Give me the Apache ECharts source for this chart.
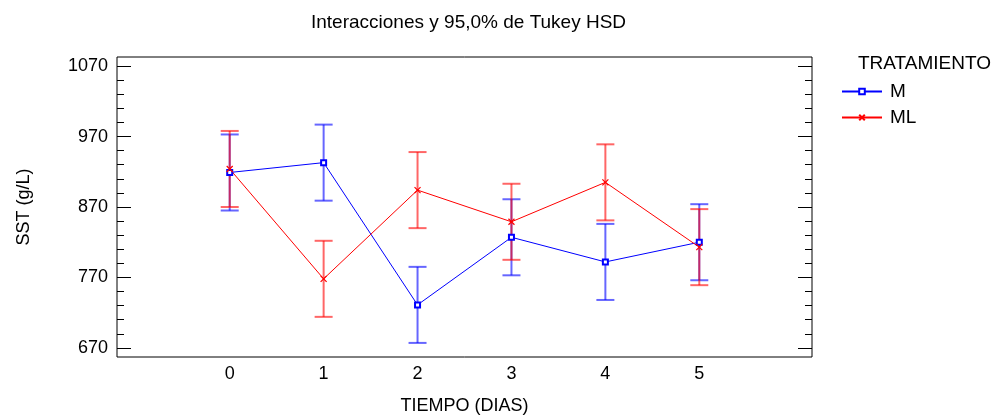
<!DOCTYPE html>
<html>
<head>
<meta charset="utf-8">
<script src="https://cdn.jsdelivr.net/npm/echarts@6/dist/echarts.min.js"></script>
<style>html,body{margin:0;padding:0;background:#fff}#c{width:1005px;height:416px}</style>
</head>
<body>
<div id="c"></div>
<script>
// ---- data ----
const days = [0, 1, 2, 3, 4, 5];
const seriesNames = ['M', 'ML'];
const meanM  = [919, 933, 731, 827, 792, 820];
const lowM   = [865, 879, 677, 773, 738, 766];
const highM  = [973, 987, 785, 881, 846, 874];
const meanML = [924, 768, 894, 849, 905, 813];
const lowML  = [870, 714, 840, 795, 851, 759];
const highML = [978, 822, 948, 903, 959, 867];
const yMajorTicks = [670, 770, 870, 970, 1070];
const yMinorTicks = [690, 710, 730, 750, 790, 810, 830, 850, 890, 910, 930, 950, 990, 1010, 1030, 1050];

const FONT = 'Liberation Sans';
const BLUE = '#0000ff', RED = '#ff0000';
const YMIN = 657, YMAX = 1083;

function pairs(xs, ys){ return xs.map((x, i) => [x, ys[i]]); }
function triples(xs, lo, hi){ return xs.map((x, i) => [x, lo[i], hi[i]]); }

function errRender(color){
  return function(params, api){
    const x = api.value(0), lo = api.value(1), hi = api.value(2);
    const a = api.coord([x, lo]), b = api.coord([x, hi]);
    const hw = 9;
    const st = {stroke: color, lineWidth: 2, opacity: 0.6};
    return {type: 'group', children: [
      {type: 'line', shape: {x1: a[0], y1: a[1], x2: b[0], y2: b[1]}, style: st},
      {type: 'line', shape: {x1: a[0]-hw, y1: a[1], x2: a[0]+hw, y2: a[1]}, style: st},
      {type: 'line', shape: {x1: b[0]-hw, y1: b[1], x2: b[0]+hw, y2: b[1]}, style: st}
    ]};
  };
}

function yAx(pos, vals, len, labels){
  return {
    type: 'value', min: YMIN, max: YMAX, position: pos,
    axisLine: {show: false, onZero: false},
    splitLine: {show: false},
    axisTick: {show: true, inside: true, length: len, customValues: vals, lineStyle: {color: '#000', width: 1}},
    axisLabel: labels ? {show: true, customValues: vals, formatter: v => String(v), fontFamily: FONT, fontSize: 18, color: '#000', margin: 9} : {show: false},
    name: labels ? 'SST (g/L)' : '',
    nameLocation: 'middle', nameGap: 84,
    nameTextStyle: {fontFamily: FONT, fontSize: 18, color: '#000'}
  };
}

const chart = echarts.init(document.getElementById('c'));
chart.setOption({
  animation: false,
  backgroundColor: '#fff',
  title: {
    text: 'Interacciones y 95,0% de Tukey HSD',
    left: 306, top: 8,
    textStyle: {fontFamily: FONT, fontSize: 19, fontWeight: 'normal', color: '#000'}
  },
  grid: {left: 117, right: 193, top: 57, bottom: 59, show: true, borderColor: '#000', borderWidth: 1, backgroundColor: 'transparent', outerBoundsMode: 'none', containLabel: false},
  legend: {
    data: seriesNames,
    orient: 'vertical', left: 836, top: 77,
    itemWidth: 40, itemHeight: 7, itemGap: 7,
    textStyle: {fontFamily: FONT, fontSize: 19, color: '#000', padding: [0, 0, 0, 3]}
  },
  graphic: [{
    type: 'text', left: 858, top: 54,
    style: {text: 'TRATAMIENTO', font: '19px "Liberation Sans"', fill: '#000'}
  }],
  xAxis: {
    type: 'value', min: -1.2, max: 6.2,
    axisLine: {show: false, onZero: false}, axisTick: {show: false}, splitLine: {show: false},
    axisLabel: {customValues: days, fontFamily: FONT, fontSize: 18, color: '#000', margin: 8},
    name: 'TIEMPO (DIAS)', nameLocation: 'middle', nameGap: 40,
    nameTextStyle: {fontFamily: FONT, fontSize: 18, color: '#000'}
  },
  yAxis: [
    yAx('left', yMajorTicks, 14, true),
    yAx('left', yMinorTicks, 7, false),
    yAx('right', yMajorTicks, 14, false),
    yAx('right', yMinorTicks, 7, false)
  ],
  series: [
    {type: 'custom', renderItem: errRender(BLUE), data: triples(days, lowM, highM), encode: {x: 0, y: [1, 2]}, z: 1, silent: true},
    {type: 'custom', renderItem: errRender(RED), data: triples(days, lowML, highML), encode: {x: 0, y: [1, 2]}, z: 1, silent: true},
    {
      name: 'M', type: 'line', data: pairs(days, meanM), z: 3,
      symbol: 'emptyRect', symbolSize: 5,
      lineStyle: {color: BLUE, width: 1},
      itemStyle: {color: BLUE, borderColor: BLUE, borderWidth: 1}
    },
    {
      name: 'ML', type: 'line', data: pairs(days, meanML), z: 3,
      symbol: 'path://M0,0L10,10M10,0L0,10', symbolSize: 6,
      lineStyle: {color: RED, width: 1},
      itemStyle: {color: 'none', borderColor: RED, borderWidth: 1.2}
    }
  ]
});
</script>
</body>
</html>
